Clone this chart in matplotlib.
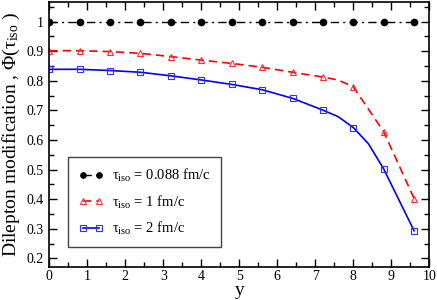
import matplotlib
matplotlib.use("Agg")
import matplotlib.pyplot as plt
from matplotlib.ticker import MultipleLocator, FormatStrFormatter

plt.rcParams["font.family"] = ["Liberation Serif", "DejaVu Serif"]
plt.rcParams["mathtext.fontset"] = "custom"
plt.rcParams["mathtext.rm"] = "Liberation Serif"
plt.rcParams["mathtext.it"] = "Liberation Serif:italic"

# ── data ─────────────────────────────────────────────────────────────────
y_black = [0.0, 0.8, 1.6, 2.4, 3.2, 4.0, 4.8, 5.6, 6.4, 7.2, 8.0, 8.8, 9.6]
phi_black = [1.0] * len(y_black)

y_red = [0.0, 0.8, 1.6, 2.4, 3.2, 4.0, 4.8, 5.6, 6.4, 7.2, 7.6, 8.0, 8.8, 9.6]
phi_red = [0.902, 0.902, 0.899, 0.893, 0.882, 0.870, 0.859, 0.846, 0.829,
           0.813, 0.803, 0.780, 0.628, 0.402]
red_marks = [0, 1, 2, 3, 4, 5, 6, 7, 8, 9, 11, 12, 13]

y_blue = [0.0, 0.8, 1.6, 2.4, 3.2, 4.0, 4.8, 5.6, 6.4, 7.2, 7.6, 8.0, 8.4,
          8.8, 9.6]
phi_blue = [0.839, 0.839, 0.835, 0.829, 0.817, 0.803, 0.788, 0.770, 0.741,
            0.701, 0.679, 0.642, 0.587, 0.502, 0.293]
blue_marks = [0, 1, 2, 3, 4, 5, 6, 7, 8, 9, 11, 13, 14]

labels = [r"$\mathrm{τ}_{\mathrm{iso}}$ = 0.088 fm/c",
          r"$\mathrm{τ}_{\mathrm{iso}}$ = 1 fm/c",
          r"$\mathrm{τ}_{\mathrm{iso}}$ = 2 fm/c"]

fig = plt.figure(figsize=(4.37, 3.0), dpi=100)
ax = fig.add_axes([0.1128, 0.111, 0.8696, 0.8833])

ax.plot(y_black, phi_black, color="black", lw=1.0, dashes=(6, 3, 1.5, 3),
        marker="o", ms=4.5, mfc="black", mec="black", label=labels[0])
ax.plot(y_red, phi_red, color="#ff0000", lw=1.2, dashes=(5, 3),
        marker="^", ms=5, mfc="none", mec="#ff3030", mew=0.8,
        markevery=red_marks, label=labels[1])
ax.plot(y_blue, phi_blue, color="#0000ff", lw=1.2,
        marker="s", ms=4.5, mfc="none", mec="#3030ff", mew=0.8,
        markevery=blue_marks, label=labels[2])

ax.set_xlim(0, 10)
ax.set_ylim(0.1716, 1.0676)
ax.xaxis.set_major_locator(MultipleLocator(1))
ax.xaxis.set_minor_locator(MultipleLocator(0.5))
ax.yaxis.set_major_locator(MultipleLocator(0.1))
ax.yaxis.set_minor_locator(MultipleLocator(0.05))
ax.xaxis.set_major_formatter(FormatStrFormatter("%g"))
ax.yaxis.set_major_formatter(FormatStrFormatter("%g"))
ax.tick_params(which="both", direction="in", top=True, right=True,
               labelsize=10, width=1.0)
ax.tick_params(which="major", length=6, pad=4)
ax.tick_params(axis="x", which="major", pad=2.5)
ax.tick_params(which="minor", length=3.5)
for s in ax.spines.values():
    s.set_linewidth(1.2)

ax.set_xlabel("y", fontsize=14, labelpad=-1)
ax.set_ylabel(r"Dilepton modification , $\Phi(\mathrm{τ}_{\mathrm{iso}}$ )",
              fontsize=14, labelpad=3)

leg = ax.legend(loc="lower left", bbox_to_anchor=(0.05, 0.073),
                borderaxespad=0, fontsize=10.5, numpoints=2, handlelength=1.7,
                handletextpad=0.6, labelspacing=0.65, borderpad=0.7,
                fancybox=False, framealpha=1, edgecolor="#444444",
                markerscale=0.85)
leg.get_frame().set_linewidth(1.0)

fig.savefig("out.png", dpi=100)
